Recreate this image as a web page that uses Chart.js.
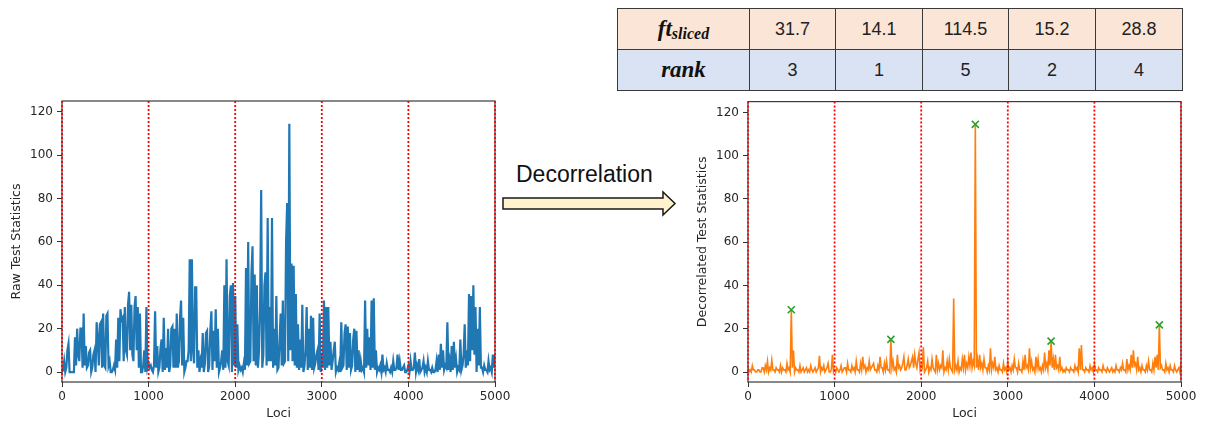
<!DOCTYPE html>
<html>
<head>
<meta charset="utf-8">
<script src="https://cdn.jsdelivr.net/npm/chart.js@4.4.1/dist/chart.umd.min.js"></script>
<style>
  body { margin: 0; background: #fff; }
  #wrap { position: relative; width: 1205px; height: 421px; overflow: hidden; }
  canvas { position: absolute; }
  #rawChart { left: 0; top: 95px; }
  #decChart { left: 680px; top: 95px; }
  #ftTable { position: absolute; left: 617px; top: 8px; border-collapse: collapse; table-layout: fixed; }
  #ftTable td { border: 1.5px solid #3a3a3a; text-align: center; padding: 0; height: 40px;
    font-family: "Liberation Sans", Arial, sans-serif; font-size: 18px; color: #222; }
  #ftTable tr.ft td { background: #fbe5d6; }
  #ftTable tr.rk td { background: #dae3f3; }
  #ftTable td.head { font-family: "Liberation Serif", serif; font-weight: bold; font-style: italic; font-size: 23px; color: #111; }
  #ftTable td.head sub { font-size: 16px; vertical-align: -3px; }
  #decoText { position: absolute; left: 516px; top: 160px; line-height: 28px;
    font-family: "Liberation Sans", Arial, sans-serif; font-size: 23px; color: #111; }
  #arrow { position: absolute; left: 500px; top: 188px; }
</style>
</head>
<body>
<div id="wrap">
  <canvas id="rawChart" width="515" height="326"></canvas>
  <canvas id="decChart" width="525" height="326"></canvas>
  <div id="decoText">Decorrelation</div>
  <svg id="arrow" width="180" height="32">
    <polygon points="3,10 163,10 163,4 175,15.5 163,27 163,21 3,21" fill="#fff2cc" stroke="#1a1a1a" stroke-width="1.5"/>
  </svg>
  <table id="ftTable"></table>
</div>
<script>
// raw test statistics, one value every 12.5 loci (0..5000), 8 values per 100 loci
const rawStats = [
  0, 1, 5, 0, 2, 10, 13, 0,        0, 0, 0, 0, 16, 3, 20, 8,
  5, 20, 20, 2, 27, 3, 12, 2,      3, 9, 10, 0, 2, 8, 10, 0,
  23, 15, 3, 22, 23, 2, 27, 3,     2, 26, 27, 3, 5, 0, 0, 1,
  3, 1, 15, 2, 25, 5, 29, 24,      25, 5, 30, 10, 8, 31, 37, 10,
  31, 8, 5, 30, 35, 10, 30, 2,     27, 0, 0, 3, 10, 0, 30, 2,
  4, 2, 3, 1, 0, 3, 28, 2,         12, 0, 2, 11, 15, 0, 25, 1,
  11, 2, 20, 0, 3, 20, 21, 2,      20, 2, 27, 2, 5, 25, 33, 3,
  25, 0, 2, 5, 5, 10, 52, 5,       52, 10, 4, 39, 39, 2, 10, 0,
  5, 2, 18, 0, 4, 18, 19, 0,       3, 19, 28, 1, 19, 5, 29, 2,
  20, 0, 2, 5, 10, 1, 40, 2,       52, 5, 3, 35, 40, 0, 41, 3,
  35, 2, 22, 1, 3, 1, 2, 0,        4, 1, 48, 3, 60, 4, 5, 45,
  58, 5, 45, 3, 40, 2, 10, 30,     84, 2, 8, 40, 46, 3, 71, 5,
  30, 5, 71, 2, 20, 3, 35, 1,      2, 15, 27, 3, 33, 4, 5, 60,
  78, 5, 114.5, 10, 50, 5, 49, 3,  36, 2, 22, 1, 15, 2, 31, 0,
  3, 10, 30, 1, 20, 2, 26, 1,      25, 2, 4, 8, 10, 1, 27, 0,
  5, 2, 33, 1, 30, 2, 30, 3,       14, 1, 5, 10, 14, 0, 2, 1,
  4, 0, 23, 2, 3, 18, 22, 1,       21, 2, 18, 1, 3, 15, 20, 0,
  19, 1, 10, 0, 5, 1, 2, 0,        33, 2, 20, 3, 16, 1, 33, 2,
  34, 1, 10, 0, 2, 1, 3, 0,        8, 1, 2, 0, 4, 1, 1, 0,
  2, 0, 5, 1, 1, 2, 8, 1,          5, 1, 1, 2, 3, 0, 0, 1,
  3, 0, 5, 1, 1, 2, 9, 0,          3, 1, 6, 0, 1, 2, 5, 0,
  2, 0, 5, 1, 1, 0, 2, 0,          0, 1, 5, 0, 8, 1, 13, 2,
  10, 1, 3, 2, 23, 1, 5, 0,        12, 1, 14, 2, 6, 0, 2, 1,
  15, 1, 3, 8, 22, 2, 10, 3,       36, 5, 35, 10, 40, 8, 30, 0,
  20, 3, 30, 2, 2, 0, 3, 1,        1, 0, 5, 1, 2, 0, 8, 2,
  8
];

// decorrelated test statistics, same loci
const decorStats = [
  2, 0, 1, 0, 3, 1, 1, 0,          0, 1, 1, 0, 0, 2, 2, 0,
  3, 1, 5, 0, 2, 1, 5.5, 1,        1, 0, 2, 1, 1, 0, 3, 0,
  2, 1, 1, 0, 4, 1, 2, 0,          28.8, 2, 10, 0, 2, 1, 1, 0,
  3, 0, 1, 2, 0, 1, 2, 0,          1, 0, 3, 1, 0, 1, 2, 0,
  1, 2, 7.5, 0, 2, 1, 3, 0,        1, 2, 4, 0, 0, 1, 8, 0,
  1, 0, 2, 1, 0, 1, 3, 0,          1, 2, 2, 0, 4, 1, 1, 0,
  3, 1, 2, 0, 5, 1, 1, 0,          4, 1, 7, 2, 3, 0, 2, 1,
  5, 1, 2, 3, 4, 1, 1, 0,          3, 1, 7, 2, 2, 0, 4, 1,
  5, 1, 1, 0, 15.1, 2, 5, 1,       2, 0, 8, 2, 3, 1, 2, 4,
  7, 1, 1, 3, 6, 2, 3, 5,          7, 2, 8, 4, 2, 6, 9, 1,
  3, 2, 11.5, 0, 1, 2, 5, 0,       2, 1, 6, 2, 1, 0, 8, 1,
  4, 1, 3, 2, 10, 0, 2, 1,         5, 1, 6, 2, 1, 0, 34, 1,
  3, 1, 5, 0, 2, 1, 6, 2,          8, 1, 4, 2, 7, 3, 9, 2,
  5, 3, 114.5, 2, 6, 1, 8, 2,      4, 1, 6, 2, 2, 0, 3, 1,
  11, 1, 4, 2, 7, 1, 2, 0,         3, 1, 1, 0, 4, 1, 2, 0,
  5, 1, 2, 0, 3, 1, 6, 2,          2, 0, 4, 1, 1, 0, 5, 1,
  8, 2, 3, 1, 11, 2, 5, 1,         2, 0, 7, 2, 6, 1, 2, 0,
  3, 1, 9, 2, 4, 1, 10, 3,         14.3, 2, 6, 1, 8, 2, 3, 1,
  7, 1, 2, 0, 1, 0, 2, 1,          1, 0, 2, 1, 1, 0, 3, 1,
  2, 0, 11, 1, 12.5, 1, 1, 0,      2, 1, 1, 0, 3, 1, 2, 0,
  4, 1, 1, 0, 2, 1, 1, 0,          3, 1, 1, 0, 2, 1, 0, 1,
  2, 0, 1, 0, 3, 1, 1, 0,          2, 1, 4, 1, 1, 0, 6, 1,
  3, 1, 8, 2, 10, 3, 4, 1,         7, 1, 2, 0, 3, 1, 1, 0,
  3, 1, 5, 1, 1, 0, 4, 1,          7, 2, 8, 1, 21.8, 2, 3, 1,
  1, 0, 4, 1, 2, 0, 3, 1,          1, 0, 3, 1, 0, 1, 2, 0,
  4
];

const lociStep = 12.5;
const peakLoci = [500, 1650, 2625, 3500, 4750];
const peakValues = [28.8, 15.1, 114.5, 14.3, 21.8];
const sliceBounds = [0, 1000, 2000, 3000, 4000, 5000];
const xTicks = [0, 1000, 2000, 3000, 4000, 5000];
const yTicks = [0, 20, 40, 60, 80, 100, 120];
const ftSliced = ["31.7", "14.1", "114.5", "15.2", "28.8"];
const ranks = ["3", "1", "5", "2", "4"];

Chart.defaults.font.family = "'DejaVu Sans', sans-serif";
Chart.defaults.font.size = 12;
Chart.defaults.color = "#262626";

// table above the right chart
const table = document.getElementById("ftTable");
const colWidths = [132, 86, 87, 86, 87, 87];
table.innerHTML =
  "<colgroup>" + colWidths.map((w) => `<col style="width:${w}px">`).join("") + "</colgroup>" +
  `<tr class="ft"><td class="head">ft<sub>sliced</sub></td>${ftSliced.map((v) => `<td>${v}</td>`).join("")}</tr>` +
  `<tr class="rk"><td class="head">rank</td>${ranks.map((v) => `<td>${v}</td>`).join("")}</tr>`;

const framePlugin = {
  id: "frame",
  afterDatasetsDraw(chart) {
    const { ctx, chartArea: a, scales: { x } } = chart;
    ctx.save();
    ctx.strokeStyle = "#3a3a3a";
    ctx.lineWidth = 1.2;
    ctx.strokeRect(a.left, a.top, a.right - a.left, a.bottom - a.top);
    ctx.strokeStyle = "#ff0000";
    ctx.lineWidth = 1.8;
    ctx.setLineDash([2, 2]);
    sliceBounds.forEach((v) => {
      const px = x.getPixelForValue(v);
      ctx.beginPath();
      ctx.moveTo(px, a.top);
      ctx.lineTo(px, a.bottom);
      ctx.stroke();
    });
    ctx.restore();
  },
};

function toPoints(values) {
  return values.map((v, i) => ({ x: i * lociStep, y: v }));
}

function makeChart(id, datasets, yTitle, yWidth, titlePad, padRight) {
  const ctx = document.getElementById(id).getContext("2d");
  return new Chart(ctx, {
    type: "line",
    data: { datasets },
    options: {
      responsive: false,
      animation: false,
      layout: { padding: { top: 6, right: padRight, left: 0, bottom: 0 } },
      plugins: { legend: { display: false }, tooltip: { enabled: false } },
      scales: {
        x: {
          type: "linear",
          min: 0,
          max: 5000,
          afterBuildTicks: (s) => { s.ticks = xTicks.map((v) => ({ value: v })); },
          afterFit: (s) => { s.height = 39; s.paddingLeft = 0; s.paddingRight = 0; },
          grid: { display: true, drawOnChartArea: false, drawTicks: true, tickLength: 5, tickColor: "#333" },
          border: { display: false },
          ticks: { padding: 3, maxRotation: 0, autoSkip: false, callback: (v) => String(v) },
          title: { display: true, text: "Loci", font: { size: 12.5 }, padding: { top: 0, bottom: 0 } },
        },
        y: {
          min: -4.6,
          max: 125,
          afterBuildTicks: (s) => { s.ticks = yTicks.map((v) => ({ value: v })); },
          afterFit: (s) => { s.width = yWidth; s.paddingTop = 0; s.paddingBottom = 0; },
          grid: { display: true, drawOnChartArea: false, drawTicks: true, tickLength: 5, tickColor: "#333" },
          border: { display: false },
          ticks: { padding: 4, autoSkip: false, callback: (v) => String(v) },
          title: { display: true, text: yTitle, font: { size: 12.5 }, padding: { top: titlePad, bottom: 0 } },
        },
      },
    },
    plugins: [framePlugin],
  });
}

makeChart("rawChart", [{
  data: toPoints(rawStats),
  borderColor: "#1f77b4",
  borderWidth: 2.2,
  pointRadius: 0,
  tension: 0,
}], "Raw Test Statistics", 62, 9.5, 20);

makeChart("decChart", [{
  type: "scatter",
  data: peakLoci.map((x, i) => ({ x, y: peakValues[i] })),
  pointStyle: "crossRot",
  pointRadius: 5,
  borderColor: "#2ca02c",
  borderWidth: 1.6,
  showLine: false,
}, {
  data: toPoints(decorStats),
  borderColor: "#ff7f0e",
  borderWidth: 1.6,
  pointRadius: 0,
  tension: 0,
}], "Decorrelated Test Statistics", 68, 15.5, 24);
</script>
</body>
</html>
